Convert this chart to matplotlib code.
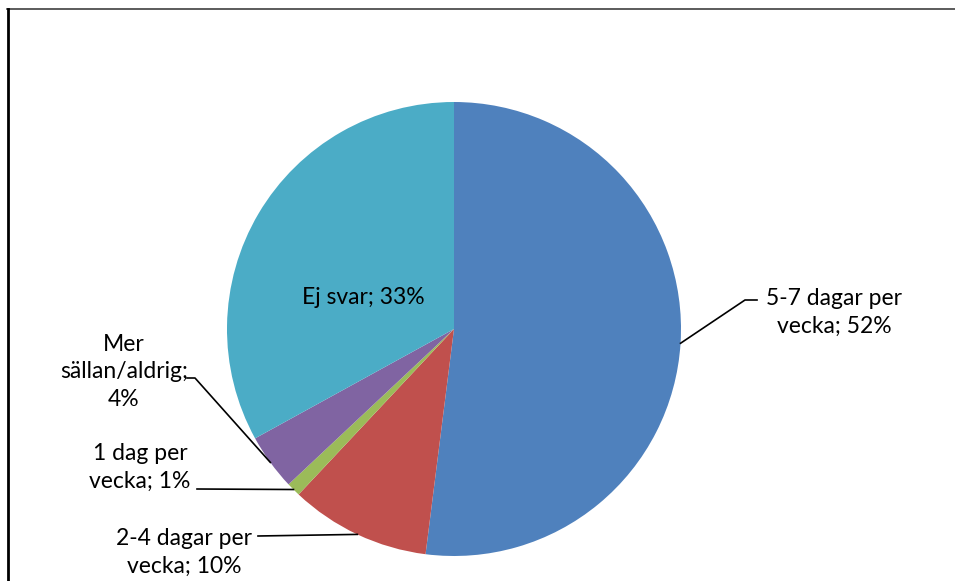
import numpy as np
import matplotlib
matplotlib.use("Agg")
import matplotlib.pyplot as plt

labels = ["5-7 dagar per\nvecka", "2-4 dagar per\nvecka", "1 dag per\nvecka",
          "Mer\nsällan/aldrig;\n", "Ej svar"]
values = [52, 10, 1, 4, 33]
colors = ["#4F81BD", "#C0504D", "#9BBB59", "#8064A2", "#4BACC6"]

plt.rcParams['font.family'] = ['Lato', 'DejaVu Sans']

W, H = 955, 581
fig = plt.figure(figsize=(W / 100, H / 100), dpi=100)
ax = fig.add_axes([0, 0, 1, 1])

cx, cy, r = 454, H - 329, 227
wedges, _ = ax.pie(values, colors=colors, startangle=90, counterclock=False,
                   center=(cx, cy), radius=r, frame=True,
                   wedgeprops=dict(linewidth=0))
ax.set_xlim(0, W)
ax.set_ylim(0, H)
ax.set_aspect('equal')
ax.axis('off')

# frame: top and left edges
ax.plot([7, W], [H - 9, H - 9], color="#404040", lw=1.2, clip_on=False)
ax.plot([7.5, 7.5], [0, H - 9], color="black", lw=2, clip_on=False)


def edge_point(i):
    w = wedges[i]
    a = np.deg2rad((w.theta1 + w.theta2) / 2)
    return cx + r * np.cos(a), cy + r * np.sin(a)


txt = dict(fontsize=16.5, ha='center', va='center', color='black', linespacing=1.4)


def label(i, x, y, sep="; "):
    return ax.text(x, H - y, "%s%s%d%%" % (labels[i], sep, values[i]), **txt)


# 5-7 dagar
label(0, 834, 312)
px, py = edge_point(0)
ax.plot([px, 745, 757], [py, H - 300, H - 300], color='black', lw=1.2)

# 2-4 dagar
label(1, 184, 552)
px, py = edge_point(1)
ax.plot([px, 258], [py, H - 536], color='black', lw=1.2)

# 1 dag
label(2, 140, 467)
px, py = edge_point(2)
ax.plot([px, 197], [py, H - 489], color='black', lw=1.2)

# Mer sällan
label(3, 124, 372, sep="")
px, py = edge_point(3)
ax.plot([px, 195, 187], [py, H - 378, H - 378], color='black', lw=1.2)

# Ej svar (inside)
label(4, 363, 298)

fig.savefig("out.png", dpi=100)
